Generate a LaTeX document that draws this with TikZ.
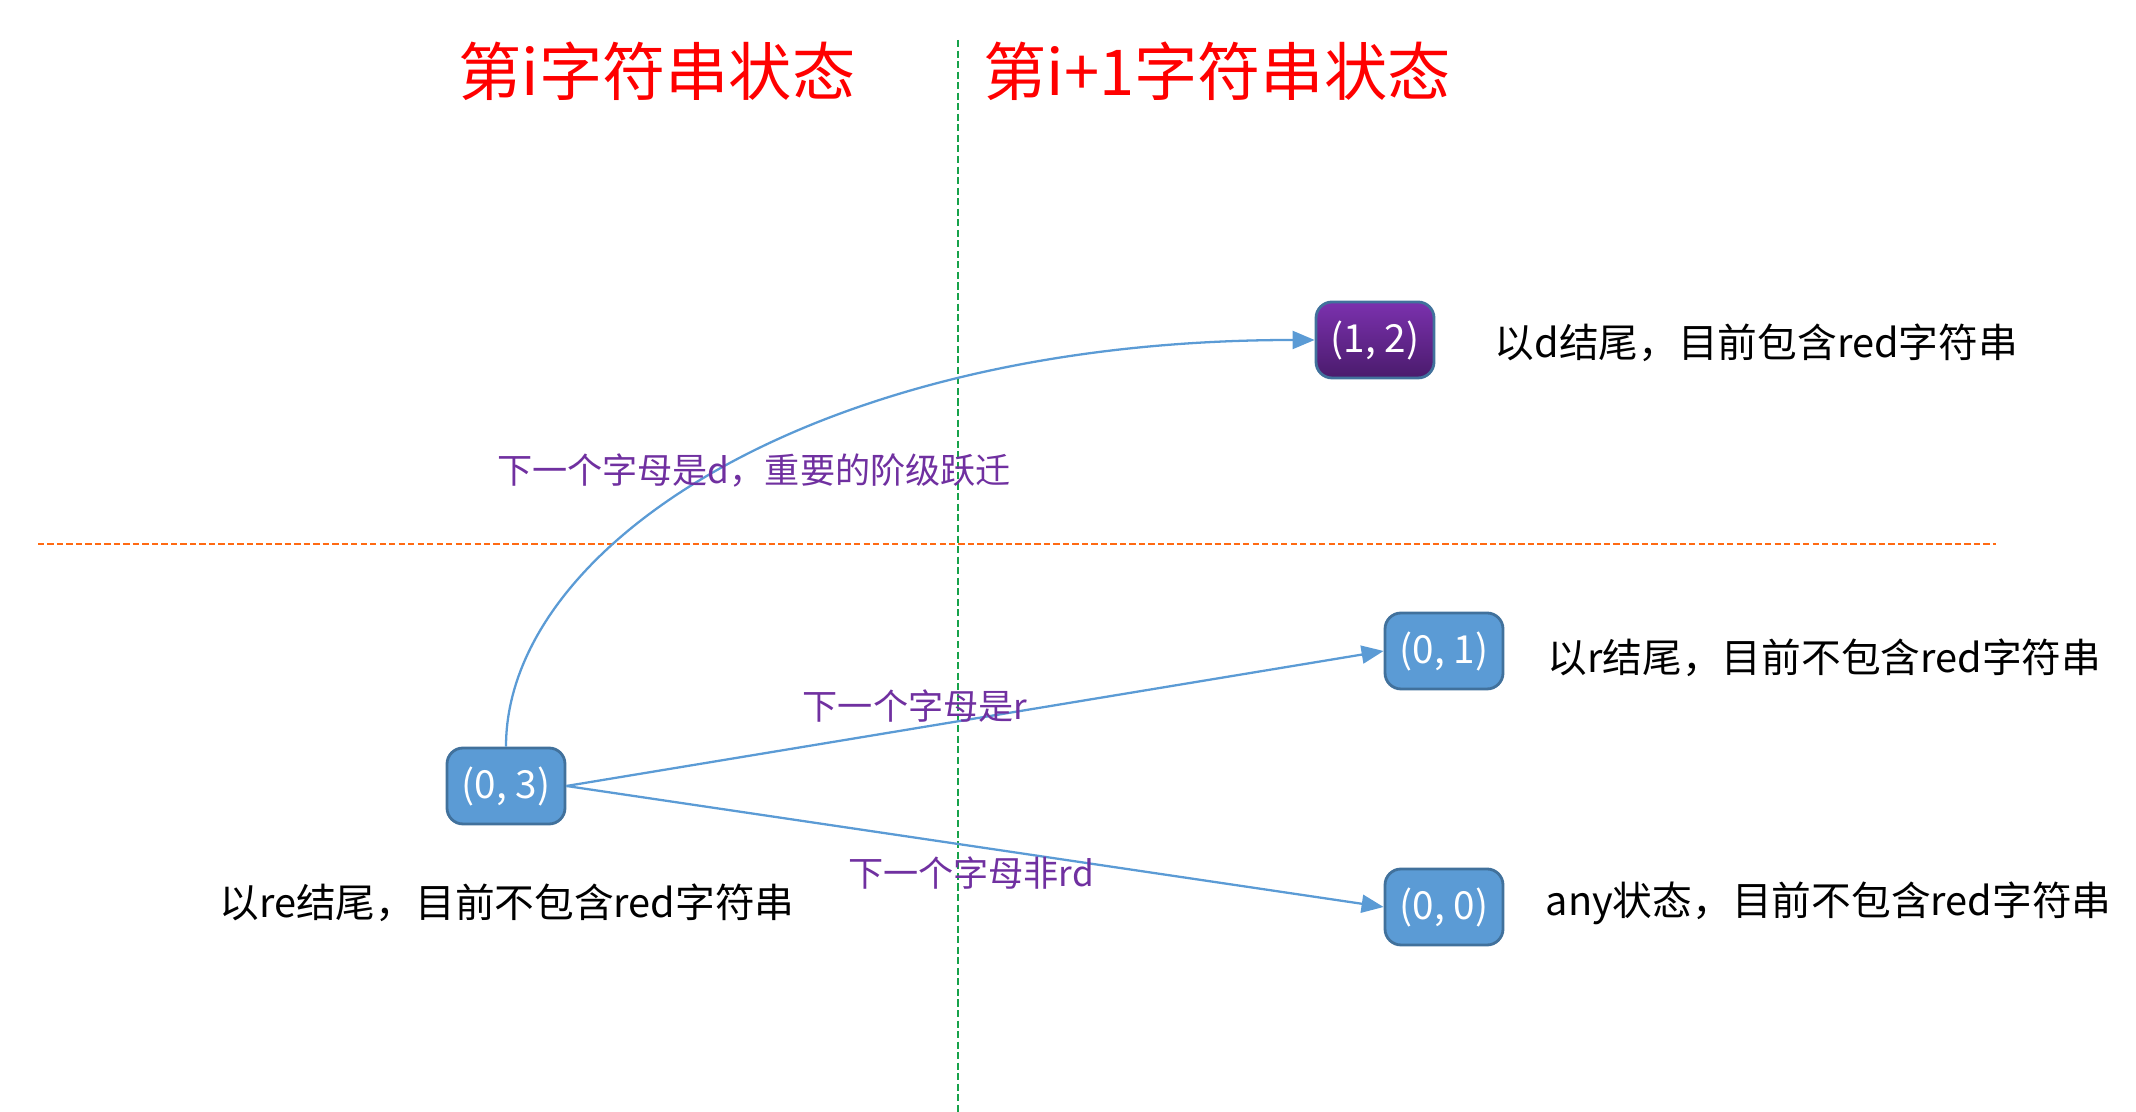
\documentclass[tikz,border=0pt]{standalone}
\usepackage{fontspec}
\setmainfont{Noto Sans CJK SC}
\usepackage{tikz}
\usetikzlibrary{positioning,arrows.meta}
\definecolor{stateblue}{HTML}{5B9BD5}
\definecolor{stateedge}{HTML}{41719C}
\definecolor{purpletop}{HTML}{7B31AE}
\definecolor{purplebot}{HTML}{4A1B6C}
\definecolor{labelpurple}{HTML}{7030A0}
\definecolor{splitgreen}{HTML}{17A24A}
\definecolor{splitorange}{HTML}{FF6A13}
\tikzset{
  state/.style={draw=stateedge, line width=0.8pt, rounded corners=1.6mm, fill=stateblue, text=white, minimum width=11.8mm, minimum height=7.6mm, inner sep=1pt, font=\fontsize{11}{13}\selectfont},
  goal/.style={state, top color=purpletop, bottom color=purplebot},
  heading/.style={text=red, inner sep=0pt, font=\fontsize{18}{22}\selectfont},
  desc/.style={inner sep=0pt, font=\fontsize{11.3}{13}\selectfont},
  trans/.style={text=labelpurple, inner sep=0pt, font=\fontsize{10}{12}\selectfont},
  move/.style={-{Triangle[length=2.2mm, width=1.8mm]}, draw=stateblue, line width=0.65pt},
  vsplit/.style={draw=splitgreen, line width=0.6pt, dash pattern=on 2pt off 1pt},
  hsplit/.style={draw=splitorange, line width=0.6pt, dash pattern=on 1.8pt off 0.9pt}
}
\begin{document}
\begin{tikzpicture}
  \useasboundingbox (0,0) rectangle (21.36,11.12);

  % separators
  \coordinate (vtop) at (9.58,10.72);
  \coordinate (vbot) at (9.58,0);
  \coordinate (hleft) at (0.38,5.68);
  \coordinate (hright) at (19.96,5.68);
  \draw[vsplit] (vtop) -- (vbot);
  \draw[hsplit] (hleft) -- (hright);

  \node[heading] (titleA) at (6.57,10.41) {第i字符串状态};
  \node[heading] (titleB) at (12.17,10.41) {第i+1字符串状态};

  % states
  \node[state] (s03) at (5.06,3.26) {(0, 3)};
  \node[goal]  (s12) at (13.75,7.72) {(1, 2)};
  \node[state] (s01) at (14.44,4.61) {(0, 1)};
  \node[state] (s00) at (14.44,2.05) {(0, 0)};

  \node[desc] (d03) at (5.07,2.09) {以re结尾，目前不包含red字符串};
  \node[desc, anchor=west] (d12) at (14.94,7.69) {以d结尾，目前包含red字符串};
  \node[desc, anchor=west] (d01) at (15.47,4.54) {以r结尾，目前不包含red字符串};
  \node[desc, anchor=west] (d00) at (15.45,2.09) {any状态，目前不包含red字符串};

  % transitions
  \draw[move] (s03.north) to[out=90, in=180, out distance=2cm, in distance=5cm] (s12.west);
  \draw[move] (s03.east) -- (s01.west);
  \draw[move] (s03.east) -- (s00.west);

  \node[trans] (td) at (7.54,6.41) {下一个字母是d，重要的阶级跃迁};
  \node[trans] (tr) at (9.15,4.06) {下一个字母是r};
  \node[trans] (tn) at (9.71,2.39) {下一个字母非rd};
\end{tikzpicture}
\end{document}
